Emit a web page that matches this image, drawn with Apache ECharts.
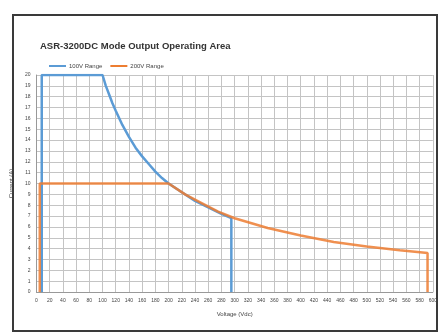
<!DOCTYPE html>
<html><head><meta charset="utf-8">
<script src="https://cdn.jsdelivr.net/npm/echarts@6/dist/echarts.min.js"></script>
<style>
html,body{margin:0;padding:0;background:#fff;}
#frame{position:absolute;left:12px;top:14px;width:426px;height:318px;border:2px solid #3a3a3a;box-sizing:border-box;}
#c{position:absolute;left:0;top:0;width:440px;height:335px;}
</style></head>
<body>
<div id="frame"></div>
<div id="c"></div>
<script>
const titleText = 'ASR-3200DC Mode Output Operating Area';
const seriesNames = ['100V Range', '200V Range'];
const xAxisName = 'Voltage (Vdc)';
const yAxisName = 'Current (A)';
// 100V range (blue)
const blueV = [8, 8, 100, 105, 110, 115, 120, 130, 140, 150, 160, 170, 180, 190, 200, 220, 240, 260, 280, 295, 295];
const blueI = [0, 20, 20, 19.0, 18.2, 17.4, 16.7, 15.4, 14.3, 13.3, 12.5, 11.8, 11.1, 10.5, 10, 9.2, 8.4, 7.8, 7.2, 6.8, 0];
// 200V range (orange)
const orangeV = [5, 5, 200, 225, 250, 275, 300, 350, 400, 450, 500, 550, 592, 592];
const orangeI = [0, 10, 10, 9.0, 8.2, 7.4, 6.8, 5.9, 5.2, 4.6, 4.2, 3.85, 3.6, 0];
const xMin = 0, xMax = 600, xStep = 20;
const yMin = 0, yMax = 20, yStep = 1;

const chart = echarts.init(document.getElementById('c'));
const pairs = (xs, ys) => xs.map((v, i) => [v, ys[i]]);
chart.setOption({
  animation: false,
  title: { text: titleText, left: 35, top: 36,
    textStyle: { fontSize: 9.5, fontWeight: 'bold', color: '#333', fontFamily: 'Liberation Sans' } },
  legend: { left: 44, top: 58, itemWidth: 17, itemHeight: 2, itemGap: 8,
    icon: 'rect',
    textStyle: { fontSize: 6, color: '#444', fontFamily: 'Liberation Sans', padding: [0,0,0,-2] },
    data: seriesNames },
  grid: { left: 36, right: 7, top: 75, bottom: 43 },
  xAxis: { type: 'value', min: xMin, max: xMax, interval: xStep,
    name: xAxisName, nameLocation: 'middle', nameGap: 19,
    nameTextStyle: { fontSize: 6, color: '#444', fontFamily: 'Liberation Sans' },
    axisLine: { lineStyle: { color: '#999' } }, axisTick: { show: false },
    axisLabel: { fontSize: 5, color: '#444', margin: 6, fontFamily: 'Liberation Sans' },
    splitLine: { show: true, lineStyle: { color: '#c4c4c4', width: 1 } } },
  yAxis: { type: 'value', min: yMin, max: yMax, interval: yStep,
    name: yAxisName, nameLocation: 'middle', nameGap: 9,
    nameTextStyle: { fontSize: 6, color: '#444', fontFamily: 'Liberation Sans' },
    axisLine: { show: true, lineStyle: { color: '#999' } }, axisTick: { show: false },
    axisLabel: { fontSize: 5, color: '#444', margin: 6, fontFamily: 'Liberation Sans' },
    splitLine: { show: true, lineStyle: { color: '#c4c4c4', width: 1 } } },
  series: [
    { name: seriesNames[0], type: 'line', data: pairs(blueV, blueI), symbol: 'none', smooth: false,
      lineStyle: { color: '#5b9bd5', width: 2.5 }, itemStyle: { color: '#5b9bd5' }, z: 2 },
    { name: seriesNames[1], type: 'line', data: pairs(orangeV, orangeI), symbol: 'none', smooth: false,
      lineStyle: { color: '#ed7d31', width: 2.5, opacity: 0.85 }, itemStyle: { color: '#ed7d31' }, z: 3 }
  ]
});
</script>
</body></html>
